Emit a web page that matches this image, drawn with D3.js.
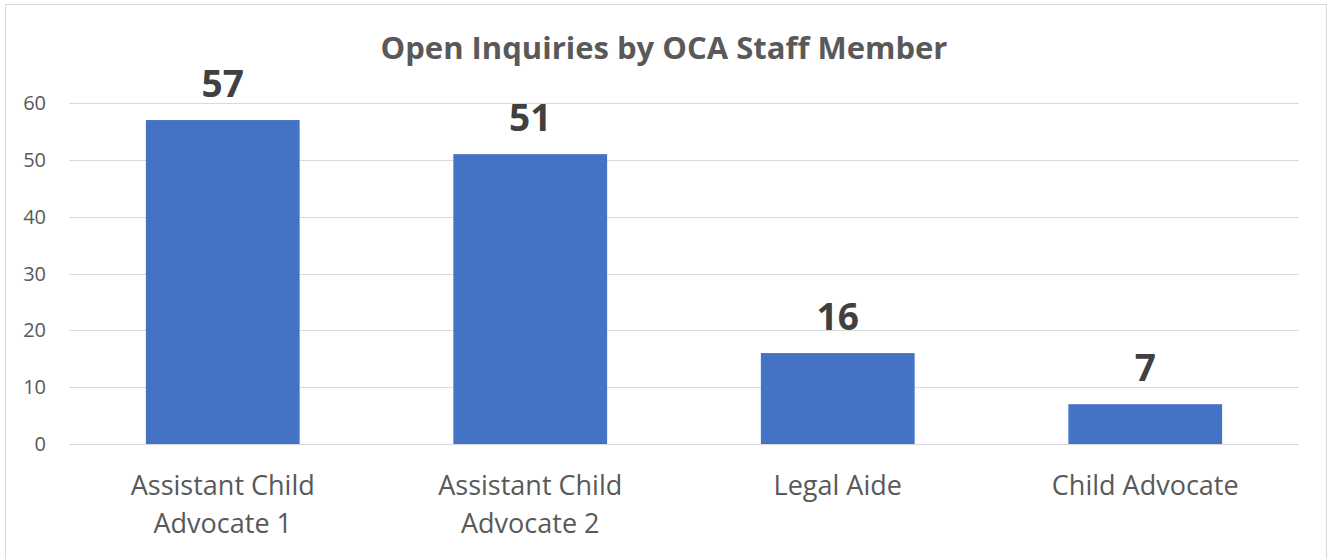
<!DOCTYPE html>
<html>
<head>
<meta charset="utf-8">
<script src="https://cdn.jsdelivr.net/npm/d3@7"></script>
<style>
  body { margin: 0; background: #fff; }
  svg { display: block; font-family: 'Open Sans', sans-serif; }
</style>
</head>
<body>
<svg id="chart" width="1328" height="559"></svg>
<script>
// ##### Data
var categories = ['Assistant Child Advocate 1', 'Assistant Child Advocate 2', 'Legal Aide', 'Child Advocate'];
var categoryLines = [['Assistant Child', 'Advocate 1'], ['Assistant Child', 'Advocate 2'], ['Legal Aide'], ['Child Advocate']];
var inquiries = [57, 51, 16, 7];
var yTicks = [0, 10, 20, 30, 40, 50, 60];
var chartTitle = 'Open Inquiries by OCA Staff Member';

// ##### Setup
var svg = d3.select('#chart');

// Outer border of the chart area
svg.append('rect')
  .attr('x', 5.5).attr('y', 4.5)
  .attr('width', 1321).attr('height', 560)
  .attr('fill', 'none')
  .attr('stroke', '#d9d9d9');

// NOTE inner padding 0.5 with outer 0.25 gives bars of half a category width
var x = d3.scaleBand()
  .domain(categories)
  .range([69, 1299])
  .paddingInner(0.5)
  .paddingOuter(0.25);

var y = d3.scaleLinear()
  .domain([0, 60])
  .range([444, 103]);

// Gridlines
svg.append('g')
  .selectAll('line')
  .data(yTicks)
  .enter()
  .append('line')
  .attr('x1', 69).attr('x2', 1299)
  .attr('y1', function(d) { return Math.round(y(d)) + 0.5; })
  .attr('y2', function(d) { return Math.round(y(d)) + 0.5; })
  .attr('stroke', '#d9d9d9')
  .attr('stroke-width', 1);

// Y tick labels
svg.append('g')
  .selectAll('text')
  .data(yTicks)
  .enter()
  .append('text')
  .attr('x', 46)
  .attr('y', function(d) { return y(d) + 7; })
  .attr('text-anchor', 'end')
  .attr('font-size', 20)
  .attr('fill', '#595959')
  .text(function(d) { return d; });

// Bars
svg.append('g')
  .selectAll('rect')
  .data(inquiries)
  .enter()
  .append('rect')
  .attr('x', function(d, i) { return x(categories[i]); })
  .attr('y', function(d) { return y(d); })
  .attr('width', x.bandwidth())
  .attr('height', function(d) { return y(0) - y(d); })
  .attr('fill', '#4472c4');

// Value labels
svg.append('g')
  .selectAll('text')
  .data(inquiries)
  .enter()
  .append('text')
  .attr('x', function(d, i) { return x(categories[i]) + x.bandwidth() / 2; })
  .attr('y', function(d) { return y(d) - 23; })
  .attr('text-anchor', 'middle')
  .attr('font-size', 37)
  .attr('font-weight', 'bold')
  .attr('fill', '#404040')
  .text(function(d) { return d; });

// Category labels
var catLabels = svg.append('g')
  .selectAll('text')
  .data(categoryLines)
  .enter()
  .append('text')
  .attr('text-anchor', 'middle')
  .attr('font-size', 27)
  .attr('fill', '#595959');

catLabels.selectAll('tspan')
  .data(function(d, i) { return d.map(function(line) { return { line: line, i: i }; }); })
  .enter()
  .append('tspan')
  .attr('x', function(d) { return x(categories[d.i]) + x.bandwidth() / 2; })
  .attr('y', function(d, j) { return 495 + j * 38; })
  .text(function(d) { return d.line; });

// Title
svg.append('text')
  .attr('x', 664)
  .attr('y', 59)
  .attr('text-anchor', 'middle')
  .attr('font-size', 31)
  .attr('font-weight', 'bold')
  .attr('fill', '#595959')
  .text(chartTitle);
</script>
</body>
</html>
